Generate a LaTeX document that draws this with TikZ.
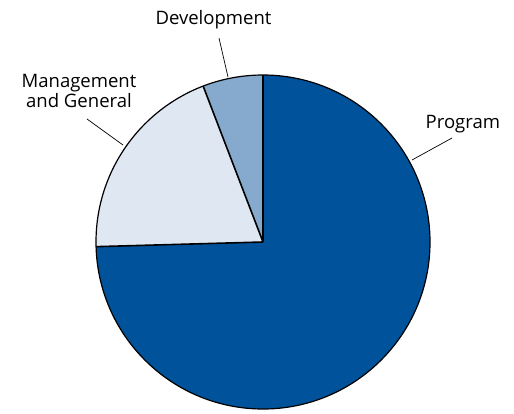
\documentclass[tikz,border=0pt]{standalone}
\usepackage{fontspec}
\setmainfont{Open Sans}
\definecolor{progblue}{RGB}{0,82,155}
\definecolor{mgmtblue}{RGB}{222,231,242}
\definecolor{devblue}{RGB}{133,170,206}
\begin{document}
\begin{tikzpicture}[x=1bp,y=1bp,
  slice/.style={draw=black,line width=1.6bp,line join=miter},
  lbl/.style={font=\fontsize{18.6}{20}\selectfont,inner sep=0pt,text=black},
  leader/.style={draw=black,line width=0.7bp}]
\useasboundingbox (0,0) rectangle (514,413);
\coordinate (c) at (263,171);
% slices
\fill[progblue] (c) -- ++(181.6:167) arc[start angle=181.6,end angle=450,radius=167] -- cycle;
\fill[mgmtblue] (c) -- ++(111:167) arc[start angle=111,end angle=181.6,radius=167] -- cycle;
\fill[devblue] (c) -- ++(90:167) arc[start angle=90,end angle=111,radius=167] -- cycle;
\draw[black,line width=1.2bp] (c) circle[radius=167];
\draw[slice] (c) -- ++(90:167);
\draw[slice] (c) -- ++(111:167);
\draw[slice] (c) -- ++(181.6:167);
% labels
\node[lbl,anchor=base] (dev) at (213.5,388) {Development};
\node[lbl,align=center,anchor=base] (mgmt) at (79,306) {Management\\and General};
\node[lbl,anchor=base west] (prog) at (425.5,285) {Program};
\coordinate (devA) at (219,375);
\coordinate (devB) at (228,336);
\coordinate (mgA) at (87,294);
\coordinate (mgB) at (123,268);
\coordinate (prA) at (452,275);
\coordinate (prB) at (412,253);
\draw[leader] (devA) -- (devB);
\draw[leader] (mgA) -- (mgB);
\draw[leader] (prA) -- (prB);
\end{tikzpicture}
\end{document}
